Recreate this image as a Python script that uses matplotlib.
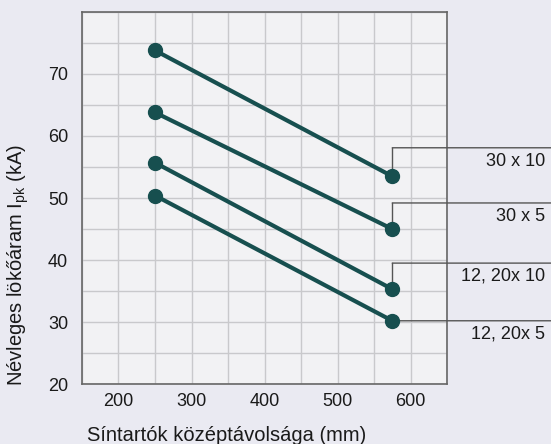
import matplotlib
matplotlib.use("Agg")
import matplotlib.pyplot as plt

# Sintávolság (mm) – bal és jobb végpont
distances = [250, 575]

series_labels = ["30 x 10", "30 x 5", "12, 20x 10", "12, 20x 5"]
peak_at_250 = [73.8, 63.8, 55.7, 50.4]
peak_at_575 = [53.5, 45.0, 35.3, 30.2]
# hol fut a címke vízszintes vonala (kA)
callout_levels = [58.1, 49.2, 39.5, 30.2]

x_ticks = [200, 300, 400, 500, 600]
y_ticks = [20, 30, 40, 50, 60, 70]

FIG_BG = "#eaeaf2"
AX_BG = "#f2f2f4"
LINE_COLOR = "#174f4f"
TEXT_COLOR = "#1a1a1a"

plt.rcParams["font.family"] = ["Liberation Sans", "DejaVu Sans"]

fig = plt.figure(figsize=(5.51, 4.44), dpi=100, facecolor=FIG_BG)
ax = fig.add_axes([0.1488, 0.1351, 0.6625, 0.8379])
ax.set_facecolor(AX_BG)

for lab, y0, y1, lvl in zip(series_labels, peak_at_250, peak_at_575, callout_levels):
    ax.plot(distances, [y0, y1], color=LINE_COLOR, linewidth=3,
            marker="o", markersize=10, zorder=4, solid_capstyle="round")
    # címkevonal: függőleges a pontból, majd vízszintes a kép széléig
    ax.plot([distances[1], distances[1]], [y1, lvl], color="#555555",
            linewidth=1.0, zorder=3)
    ax.annotate("", xy=(1.0, lvl), xycoords=("figure fraction", "data"),
                xytext=(distances[1], lvl), textcoords="data",
                arrowprops=dict(arrowstyle="-", color="#555555", lw=1.0,
                                shrinkA=0, shrinkB=0),
                annotation_clip=False, zorder=3)
    ax.annotate(lab, xy=(0.989, lvl), xycoords=("figure fraction", "data"),
                xytext=(0, -3.5), textcoords="offset points",
                ha="right", va="top", fontsize=13, color=TEXT_COLOR,
                annotation_clip=False)

ax.set_xlim(150, 650)
ax.set_ylim(20, 80)
ax.set_xticks(x_ticks)
ax.set_yticks(y_ticks)
ax.set_xticks(range(150, 651, 50), minor=True)
ax.set_yticks(range(20, 81, 5), minor=True)
ax.grid(which="minor", color="#c9c9cc", linewidth=1.0)
ax.grid(which="major", color="#c9c9cc", linewidth=1.0)
ax.set_axisbelow(True)
ax.tick_params(which="both", length=0, labelsize=13, labelcolor=TEXT_COLOR)
ax.tick_params(axis="x", pad=6.5)
ax.tick_params(axis="y", pad=10)

for side in ["left", "bottom", "top", "right"]:
    ax.spines[side].set_color("#666666")
    ax.spines[side].set_linewidth(1.2)

ax.set_xlabel("Síntartók középtávolsága (mm)", fontsize=14.5, color=TEXT_COLOR)
ax.set_ylabel("Névleges lökőáram I$_{\\mathregular{pk}}$ (kA)", fontsize=14.5,
              color=TEXT_COLOR)
ax.xaxis.set_label_coords(0.014, -0.113)
ax.xaxis.label.set_horizontalalignment("left")
ax.yaxis.set_label_coords(-0.14, 0.32)

fig.savefig("out.png", dpi=100, facecolor=FIG_BG)
